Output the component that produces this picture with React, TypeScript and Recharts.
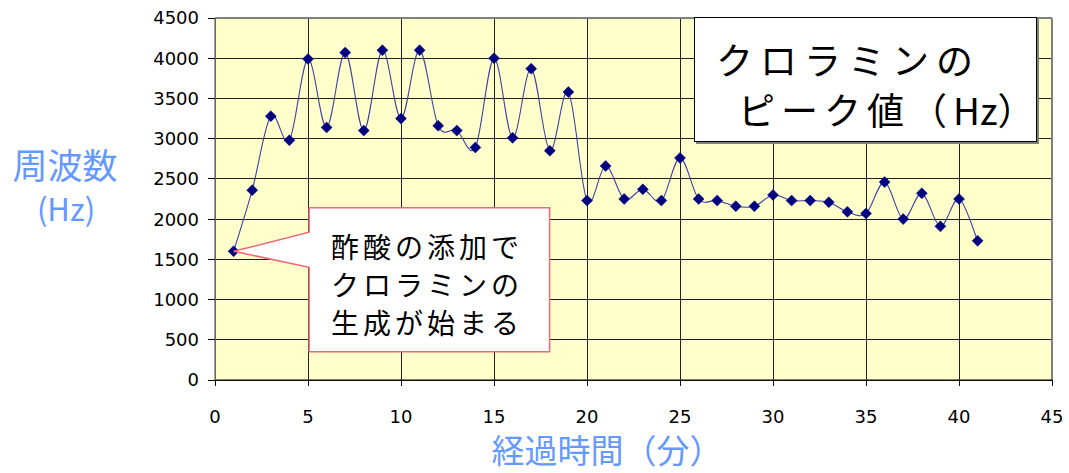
import React from 'react';
import { LineChart, Line, XAxis, YAxis, CartesianGrid, ReferenceLine, ReferenceDot } from 'recharts';

const minutes = [1, 2, 3, 4, 5, 6, 7, 8, 9, 10, 11, 12, 13, 14, 15, 16, 17, 18, 19, 20, 21, 22, 23, 24, 25, 26, 27, 28, 29, 30, 31, 32, 33, 34, 35, 36, 37, 38, 39, 40, 41];
const peakHz = [1600, 2360, 3280, 2980, 3990, 3140, 4070, 3100, 4100, 3250, 4100, 3160, 3100, 2890, 4000, 3010, 3870, 2850, 3580, 2230, 2660, 2250, 2370, 2230, 2760, 2250, 2230, 2160, 2160, 2300, 2230, 2230, 2210, 2090, 2070, 2460, 2000, 2320, 1910, 2250, 1730];
const xTicks = [0, 5, 10, 15, 20, 25, 30, 35, 40, 45];
const yTicks = [0, 500, 1000, 1500, 2000, 2500, 3000, 3500, 4000, 4500];

const data = minutes.map((m, i) => ({ t: m, hz: peakHz[i] }));

const excelCurve: any = (context: any) => {
  let pts: [number, number][] = [];
  return {
    areaStart() {},
    areaEnd() {},
    lineStart() { pts = []; },
    point(x: number, y: number) { pts.push([+x, +y]); },
    lineEnd() {
      const n = pts.length;
      if (!n) return;
      context.moveTo(pts[0][0], pts[0][1]);
      for (let i = 0; i < n - 1; i++) {
        const p0 = pts[i - 1] || pts[i];
        const p1 = pts[i];
        const p2 = pts[i + 1];
        const p3 = pts[i + 2] || p2;
        context.bezierCurveTo(
          p1[0] + (p2[0] - p0[0]) / 6, p1[1] + (p2[1] - p0[1]) / 6,
          p2[0] - (p3[0] - p1[0]) / 6, p2[1] - (p3[1] - p1[1]) / 6,
          p2[0], p2[1]
        );
      }
    },
  };
};

const Diamond = (props: any) => {
  const { cx, cy } = props;
  if (cx == null || cy == null) return null;
  const r = 5.5;
  return <path d={`M${cx},${cy - r}L${cx + r},${cy}L${cx},${cy + r}L${cx - r},${cy}Z`} fill="#000080" stroke="#000080" strokeWidth={0.5} />;
};

const Callout = (props: any) => {
  const { cx, cy } = props;
  if (cx == null || cy == null) return null;
  const l = cx + 75.5, t = cy - 43.5, r = cx + 316, b = cy + 100.5;
  const d = `M${cx},${cy}L${l},${cy - 19}L${l},${t}L${r},${t}L${r},${b}L${l},${b}L${l},${cy + 16}Z`;
  const font = "'Noto Sans CJK JP', sans-serif";
  return (
    <g>
      <path d={d} fill="#ffffff" stroke="#EE6677" strokeWidth={1.5} />
      <text x={l + 22} y={cy + 7} fontSize={28} letterSpacing={4} fontFamily={font} fill="#000">酢酸の添加で</text>
      <text x={l + 22} y={cy + 45} fontSize={28} letterSpacing={4} fontFamily={font} fill="#000">クロラミンの</text>
      <text x={l + 22} y={cy + 83} fontSize={28} letterSpacing={4} fontFamily={font} fill="#000">生成が始まる</text>
    </g>
  );
};

export default function App() {
  const cjk = "'Noto Sans CJK JP', sans-serif";
  return (
    <div style={{ position: 'absolute', left: 0, top: 0, width: 1069, height: 473, background: '#fff' }}>
      <style>{`.recharts-cartesian-grid line { stroke: #202020; stroke-opacity: 1; shape-rendering: crispEdges; } .recharts-cartesian-axis-tick-line, .recharts-reference-line line { shape-rendering: crispEdges; }`}</style>
      <LineChart width={1069} height={473} data={data} margin={{ top: 18, right: 17, bottom: 53, left: 0 }}>
        <CartesianGrid stroke="#202020" strokeWidth={1} fill="#FFFFCC" fillOpacity={1} />
        <ReferenceLine y={4500} stroke="#808080" strokeWidth={1.5} />
        <ReferenceLine x={45} stroke="#808080" strokeWidth={1.5} />
        <XAxis
          dataKey="t"
          type="number"
          domain={[0, 45]}
          ticks={xTicks}
          interval={0}
          height={40}
          tickSize={6}
          tickMargin={24}
          axisLine={{ stroke: '#000', strokeWidth: 1.2 }}
          tickLine={{ stroke: '#000' }}
          tick={{ fill: '#000', fontSize: 18, fontFamily: "'DejaVu Sans', sans-serif" }}
        />
        <YAxis
          type="number"
          domain={[0, 4500]}
          ticks={yTicks}
          interval={0}
          width={215}
          tickSize={7}
          tickMargin={9}
          axisLine={{ stroke: '#808080', strokeWidth: 1.5 }}
          tickLine={{ stroke: '#000' }}
          tick={{ fill: '#000', fontSize: 18, fontFamily: "'DejaVu Sans', sans-serif" }}
        />
        <Line
          dataKey="hz"
          type={excelCurve}
          stroke="#4040a0"
          strokeWidth={1.1}
          dot={<Diamond />}
          activeDot={false}
          isAnimationActive={false}
        />
        <ReferenceDot x={minutes[0]} y={peakHz[0]} shape={(p: any) => <Callout {...p} />} />
      </LineChart>
      <svg width={1069} height={473} style={{ position: 'absolute', left: 0, top: 0, pointerEvents: 'none' }}>
        <text x={65} y={179} textAnchor="middle" fontSize={35} fontFamily={cjk} fill="#6699FF">周波数</text>
        <text x={66} y={221} textAnchor="middle" fontSize={31} fontFamily={cjk} fill="#6699FF">(Hz)</text>
        <text x={607} y={463} textAnchor="middle" fontSize={33} fontFamily={cjk} fill="#6699FF">経過時間（分）</text>
        <rect x={696} y={19} width={343} height={125} fill="#808080" />
        <rect x={694.5} y={17.5} width={342} height={124} fill="#ffffff" stroke="#000" strokeWidth={1} />
        <text x={716} y={75} fontSize={37} letterSpacing={7} fontFamily={cjk} fill="#000">クロラミンの</text>
        <text x={738} y={125} fontSize={37} fontFamily={cjk} fill="#000">
          <tspan letterSpacing={6}>ピーク値（</tspan>
          <tspan letterSpacing={0}>Hz）</tspan>
        </text>
      </svg>
    </div>
  );
}
